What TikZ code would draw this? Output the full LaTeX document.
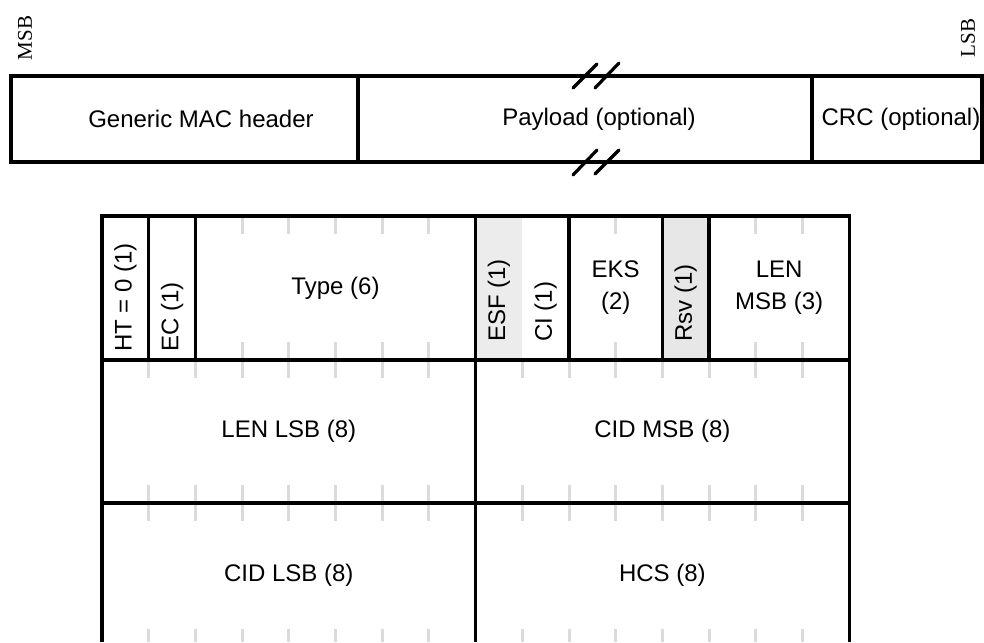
\documentclass[tikz,border=0pt]{standalone}
\usepackage{fontspec}
\setmainfont{Liberation Sans}
\newfontfamily\sidefont{Liberation Serif}
\usetikzlibrary{positioning,calc}
\tikzset{
  fld/.style ={draw,line width=3.3pt},
  frm/.style ={draw,line width=4pt},
  tck/.style ={draw,line width=3pt,color=gray!28},
  brk/.style ={draw,line width=3.2pt,line cap=round},
  lbl/.style ={font=\fontsize{24}{32}\selectfont,inner sep=0pt,align=center},
  vlb/.style ={lbl,rotate=90,anchor=west},
  endbit/.style={font=\sidefont\fontsize{21}{21}\selectfont,rotate=90,inner sep=0pt},
}
\def\xo{102}
\def\bitw{46.7}
\begin{document}
\begin{tikzpicture}[x=1pt,y=-1pt]
\useasboundingbox (0,0) rectangle (984,642);
% MAC PDU
\node[endbit] (msb) at (25,38) {MSB};
\node[endbit] (lsb) at (968,38) {LSB};
\draw[frm] (11,76) rectangle (981.5,162);
\draw[fld] (358,76) -- (358,162) (812,76) -- (812,162);
\draw[brk] (573,88) -- (597,64) (595,88) -- (619,63);
\draw[brk] (573,175) -- (597,150) (595,174) -- (619,150);
\node[lbl] (gmh) at (201,119) {Generic MAC header};
\node[lbl] (pay) at (599,119) {Payload (optional)};
\node[lbl] (crc) at (901,119) {CRC (optional)};
% header fields
\fill[gray!15] ({\xo+8*\bitw},216) rectangle ({\xo+9*\bitw},360);
\fill[gray!19] ({\xo+12*\bitw},216) rectangle ({\xo+13*\bitw},360);
\foreach \i in {3,...,7,11,14,15}{
  \draw[tck] ({\xo+\i*\bitw},216) -- ++(0,18);
  \draw[tck] ({\xo+\i*\bitw},360) -- ++(0,-18);
}
\foreach \i in {1,...,7,9,10,...,15}{
  \draw[tck] ({\xo+\i*\bitw},360) -- ++(0,18);
  \draw[tck] ({\xo+\i*\bitw},503) -- ++(0,-18);
  \draw[tck] ({\xo+\i*\bitw},503) -- ++(0,18);
  \draw[tck] ({\xo+\i*\bitw},642) -- ++(0,-13);
}
\draw[fld] (\xo,642) -- (\xo,216) -- ({\xo+16*\bitw},216) -- ({\xo+16*\bitw},642);
\draw[fld] (\xo,360) -- ({\xo+16*\bitw},360) (\xo,503) -- ({\xo+16*\bitw},503);
\draw[fld] ({\xo+8*\bitw},216) -- ({\xo+8*\bitw},642);
\foreach \i in {1,2,10,12,13}
  \draw[fld] ({\xo+\i*\bitw},216) -- ({\xo+\i*\bitw},360);
\node[vlb] (ht) at ({\xo+0.5*\bitw},352) {HT = 0 (1)};
\node[vlb] (ec) at ({\xo+1.5*\bitw},352) {EC (1)};
\node[lbl] (typ) at ({\xo+5*\bitw},288) {Type (6)};
\node[vlb] (esf) at ({\xo+8.5*\bitw},342) {ESF (1)};
\node[vlb] (ci) at ({\xo+9.5*\bitw},342) {CI (1)};
\node[lbl] (eks) at ({\xo+11*\bitw},288) {EKS\\(2)};
\node[vlb] (rsv) at ({\xo+12.5*\bitw},342) {Rsv (1)};
\node[lbl] (lenm) at ({\xo+14.5*\bitw},288) {LEN\\MSB (3)};
\node[lbl] (lenl) at ({\xo+4*\bitw},431) {LEN LSB (8)};
\node[lbl] (cidm) at ({\xo+12*\bitw},431) {CID MSB (8)};
\node[lbl] (cidl) at ({\xo+4*\bitw},575) {CID LSB (8)};
\node[lbl] (hcs) at ({\xo+12*\bitw},575) {HCS (8)};
\end{tikzpicture}
\end{document}
